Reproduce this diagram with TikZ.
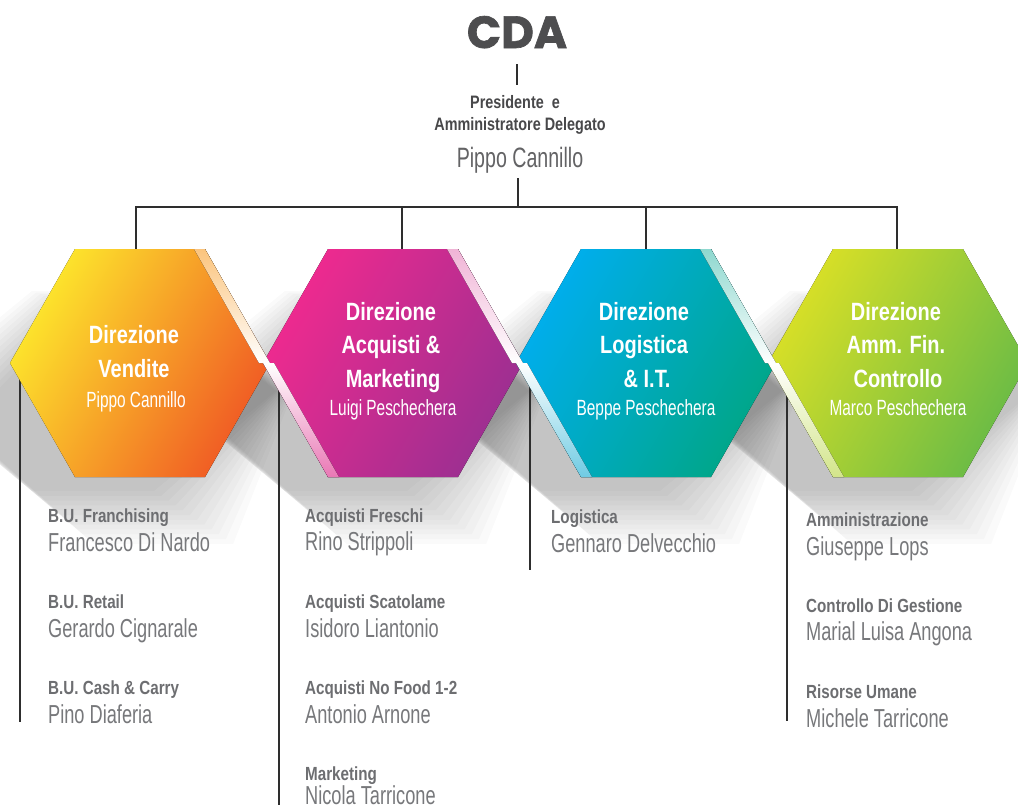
\documentclass[tikz,border=0pt]{standalone}
\usepackage{fontspec}
\setmainfont[FakeStretch=0.7]{Liberation Sans}
\newfontfamily\headfont[FakeStretch=0.8]{Liberation Sans}
\newfontfamily\cdafont[FakeBold=1.5]{Poppins}
\usetikzlibrary{calc}

\definecolor{linegray}{HTML}{2E2E2E}
\definecolor{lblgray}{HTML}{6D6E71}
\definecolor{namegray}{HTML}{77787B}
\definecolor{topgray}{HTML}{48484A}
\definecolor{cdagray}{HTML}{4D4D4F}

% hexagon: center, half width, half height
\newcommand{\hexr}[3]{($(#1)+(#2,0)$) -- ++(-#2/2,-#3) -- ++(-#2,0) -- ++(-#2/2,#3) -- ++(#2/2,#3) -- ++(#2,0) -- cycle}

\begin{document}
\begin{tikzpicture}[x=1pt, y=-1pt,
    link/.style={draw=linegray, line width=1.6pt},
    lbl/.style={anchor=base west, inner sep=0pt, text=lblgray, font=\headfont\bfseries\fontsize{19}{22}\selectfont},
    who/.style={anchor=base west, inner sep=0pt, text=namegray, font=\fontsize{26}{30}\selectfont},
    hexhead/.style={anchor=base, inner sep=0pt, text=white, font=\headfont\bfseries\fontsize{25}{30}\selectfont},
    hexwho/.style={anchor=base, inner sep=0pt, text=white, font=\fontsize{22}{26}\selectfont}]
    \useasboundingbox (0,0) rectangle (1018,809);
    \clip (0,0) rectangle (1018,809);
    \fill[white] (0,0) rectangle (1018,809);

    % soft shadows
    \foreach \cx in {140,393,646,898}
      \foreach \s in {0,...,11}
        \fill[black, opacity=0.02] \hexr{\cx+14,391}{122+\s*1.6}{100+\s*1.6};

    % top
    \node[anchor=base, inner sep=0pt, text=cdagray, font=\cdafont\bfseries\fontsize{45}{50}\selectfont] (cda) at (517,48) {CDA};
    \node[anchor=base, inner sep=0pt, text=topgray, font=\headfont\bfseries\fontsize{18}{22}\selectfont] (pres1) at (515,108) {Presidente\ \ e};
    \node[anchor=base, inner sep=0pt, text=topgray, font=\headfont\bfseries\fontsize{18}{22}\selectfont] (pres2) at (520,130) {Amministratore Delegato};
    \node[anchor=base, inner sep=0pt, text=topgray!85, font=\fontsize{28}{32}\selectfont] (pres) at (520,167) {Pippo Cannillo};

    \coordinate (cda-foot) at (517,64);
    \coordinate (pres-head) at (517,85);
    \coordinate (pres-foot) at (518,178);
    \coordinate (bus) at (518,207);
    \coordinate (vendite-top) at (136,249);
    \coordinate (acquisti-top) at (402,249);
    \coordinate (logistica-top) at (646,249);
    \coordinate (amm-top) at (897,249);

    \draw[link] (cda-foot) -- (pres-head);
    \draw[link] (pres-foot) -- (bus);
    \draw[link] (vendite-top) |- (bus);
    \draw[link] (amm-top) |- (bus);
    \draw[link] (acquisti-top) -- (acquisti-top |- bus);
    \draw[link] (logistica-top) -- (logistica-top |- bus);

    % side lines
    \coordinate (vendite-side) at (20,363);
    \coordinate (vendite-end) at (20,722);
    \coordinate (acquisti-side) at (279,363);
    \coordinate (acquisti-end) at (279,805);
    \coordinate (logistica-side) at (530,363);
    \coordinate (logistica-end) at (530,570);
    \coordinate (amm-side) at (787,363);
    \coordinate (amm-end) at (787,721);
    \draw[link] (vendite-side) -- (vendite-end);
    \draw[link] (acquisti-side) -- (acquisti-end);
    \draw[link] (logistica-side) -- (logistica-end);
    \draw[link] (amm-side) -- (amm-end);

    % hexagons
    \fill[top color={rgb,255:red,253;green,232;blue,44}, middle color={rgb,255:red,247;green,148;blue,29},
          bottom color={rgb,255:red,240;green,89;blue,36}, shading angle=60] \hexr{140,363}{130}{114};
    \fill[top color={rgb,255:red,240;green,42;blue,143}, middle color={rgb,255:red,216;green,40;blue,140},
          bottom color={rgb,255:red,155;green,47;blue,145}, shading angle=60] \hexr{393,363}{130}{114};
    \fill[top color={rgb,255:red,0;green,174;blue,239}, middle color={rgb,255:red,0;green,166;blue,190},
          bottom color={rgb,255:red,0;green,166;blue,135}, shading angle=60] \hexr{646,363}{130}{114};
    \fill[top color={rgb,255:red,218;green,224;blue,38}, middle color={rgb,255:red,160;green,202;blue,60},
          bottom color={rgb,255:red,105;green,187;blue,70}, shading angle=60] \hexr{898,363}{130}{114};

    % light strips
    \fill[top color={rgb,255:red,251;green,196;blue,125}, bottom color=white] (205,249) -- (270,363) -- (259,363) -- (194,249) -- cycle;
    \fill[top color=white, bottom color={rgb,255:red,233;green,120;blue,181}] (263,363) -- (328,477) -- (339,477) -- (274,363) -- cycle;
    \fill[top color={rgb,255:red,240;green,180;blue,214}, bottom color=white] (458,249) -- (523,363) -- (512,363) -- (447,249) -- cycle;
    \fill[top color=white, bottom color={rgb,255:red,111;green,203;blue,227}] (516,363) -- (581,477) -- (592,477) -- (527,363) -- cycle;
    \fill[top color={rgb,255:red,142;green,216;blue,207}, bottom color=white] (711,249) -- (776,363) -- (765,363) -- (700,249) -- cycle;
    \fill[top color=white, bottom color={rgb,255:red,211;green,229;blue,138}] (768,363) -- (833,477) -- (844,477) -- (779,363) -- cycle;

    % hexagon texts
    \node[hexhead] (vendite-1) at (134,343) {Direzione};
    \node[hexhead] (vendite-2) at (134,377) {Vendite};
    \node[hexwho] (vendite) at (136,407) {Pippo Cannillo};

    \node[hexhead] (acquisti-1) at (391,320) {Direzione};
    \node[hexhead] (acquisti-2) at (391,353) {Acquisti \&};
    \node[hexhead] (acquisti-3) at (393,387) {Marketing};
    \node[hexwho] (acquisti) at (393,415) {Luigi Peschechera};

    \node[hexhead] (logistica-1) at (644,320) {Direzione};
    \node[hexhead] (logistica-2) at (644,353) {Logistica};
    \node[hexhead] (logistica-3) at (647,387) {\& I.T.};
    \node[hexwho] (logistica) at (646,415) {Beppe Peschechera};

    \node[hexhead] (amm-1) at (896,320) {Direzione};
    \node[hexhead] (amm-2) at (896,353) {Amm. Fin.};
    \node[hexhead] (amm-3) at (898,387) {Controllo};
    \node[hexwho] (amm) at (898,415) {Marco Peschechera};

    % lists
    \node[lbl] (franch-l) at (48,522) {B.U. Franchising};
    \node[who] (franch) at (48,551) {Francesco Di Nardo};
    \node[lbl] (retail-l) at (48,608) {B.U. Retail};
    \node[who] (retail) at (48,637) {Gerardo Cignarale};
    \node[lbl] (cash-l) at (48,694) {B.U. Cash \& Carry};
    \node[who] (cash) at (48,723) {Pino Diaferia};

    \node[lbl] (freschi-l) at (305,522) {Acquisti Freschi};
    \node[who] (freschi) at (305,550) {Rino Strippoli};
    \node[lbl] (scat-l) at (305,608) {Acquisti Scatolame};
    \node[who] (scat) at (305,637) {Isidoro Liantonio};
    \node[lbl] (nofood-l) at (305,694) {Acquisti No Food 1-2};
    \node[who] (nofood) at (305,723) {Antonio Arnone};
    \node[lbl] (mkt-l) at (305,780) {Marketing};
    \node[who] (mkt) at (305,804) {Nicola Tarricone};

    \node[lbl] (log-l) at (551,523) {Logistica};
    \node[who] (log) at (551,552) {Gennaro Delvecchio};

    \node[lbl] (ammin-l) at (806,526) {Amministrazione};
    \node[who] (ammin) at (806,555) {Giuseppe Lops};
    \node[lbl] (cdg-l) at (806,612) {Controllo Di Gestione};
    \node[who] (cdg) at (806,640) {Marial Luisa Angona};
    \node[lbl] (hr-l) at (806,698) {Risorse Umane};
    \node[who] (hr) at (806,727) {Michele Tarricone};
\end{tikzpicture}
\end{document}
